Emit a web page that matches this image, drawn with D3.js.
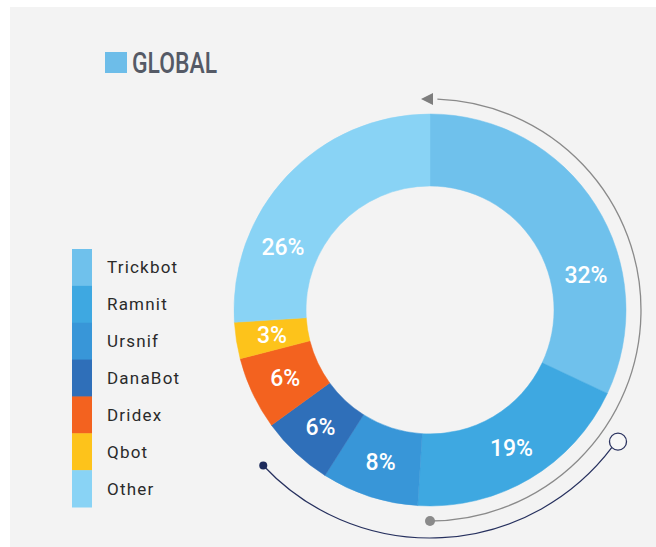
<!DOCTYPE html>
<html>
<head>
<meta charset="utf-8">
<script src="https://cdn.jsdelivr.net/npm/d3@7"></script>
<style>
  html, body { margin: 0; padding: 0; background: #ffffff; }
  svg { display: block; }
</style>
</head>
<body>
<svg id="chart" width="656" height="547"></svg>
<script>
// Malware family share, global
const families = ["Trickbot", "Ramnit", "Ursnif", "DanaBot", "Dridex", "Qbot", "Other"];
const shares = [32, 19, 8, 6, 6, 3, 26];
const colors = ["#6fc1ec", "#3ea8e1", "#3896d8", "#2f6fb9", "#f3621f", "#fdc31b", "#89d3f5"];
const title = "GLOBAL";

const W = 656, H = 547;
const cx = 430, cy = 310;
const rInner = 124, rOuter = 196;

const svg = d3.select("#chart");

// panel background
svg.append("rect")
  .attr("x", 10).attr("y", 7)
  .attr("width", W - 10).attr("height", H - 7)
  .attr("fill", "#f3f3f3");

// title with swatch
svg.append("rect")
  .attr("x", 105).attr("y", 52)
  .attr("width", 22).attr("height", 21)
  .attr("fill", "#6dbde9");
svg.append("text")
  .attr("x", 132).attr("y", 73)
  .attr("font-family", "Roboto, 'DejaVu Sans', sans-serif")
  .attr("font-weight", 500)
  .attr("font-size", 29)
  .attr("textLength", 85)
  .attr("lengthAdjust", "spacingAndGlyphs")
  .attr("fill", "#555a66")
  .text(title);

// legend: stacked colour bar with labels
const legendScale = d3.scaleBand()
  .domain(families)
  .range([249, 507]);

const legend = svg.append("g");
legend.selectAll("rect")
  .data(families)
  .join("rect")
  .attr("x", 72)
  .attr("y", d => legendScale(d))
  .attr("width", 20)
  .attr("height", legendScale.bandwidth() + 0.5)
  .attr("fill", (d, i) => colors[i]);
legend.selectAll("text")
  .data(families)
  .join("text")
  .attr("x", 107)
  .attr("y", d => legendScale(d) + legendScale.bandwidth() / 2 + 6)
  .attr("font-family", "Roboto, 'DejaVu Sans', sans-serif")
  .attr("font-size", 17)
  .attr("letter-spacing", 1.2)
  .attr("fill", "#2a2a2a")
  .text(d => d);

// decorative guide arcs around the ring
const deg = Math.PI / 180;
const guide = svg.append("g").attr("transform", `translate(${cx},${cy})`);

// grey arc from the bottom, round the right side, to an arrow at the top
const greyR = 211;
guide.append("path")
  .attr("d", d3.arc()({ innerRadius: greyR, outerRadius: greyR, startAngle: 2 * deg, endAngle: 180 * deg }))
  .attr("fill", "none")
  .attr("stroke", "#8a8a8a")
  .attr("stroke-width", 1.3);
guide.append("path")
  .attr("d", `M${-9},${-greyR} L${3},${-greyR - 6} L${3},${-greyR + 6} Z`)
  .attr("fill", "#7d7d7d");
guide.append("circle")
  .attr("cx", 0).attr("cy", greyR)
  .attr("r", 5)
  .attr("fill", "#8a8a8a");

// navy arc from the lower left round the bottom to an open ring
const navyR = 228;
guide.append("path")
  .attr("d", d3.arc()({ innerRadius: navyR, outerRadius: navyR, startAngle: 127 * deg, endAngle: 227 * deg }))
  .attr("fill", "none")
  .attr("stroke", "#26305e")
  .attr("stroke-width", 1.2);
guide.append("circle")
  .attr("cx", navyR * Math.sin(227 * deg))
  .attr("cy", -navyR * Math.cos(227 * deg))
  .attr("r", 4)
  .attr("fill", "#1d2b5c");
guide.append("circle")
  .attr("cx", 229.5 * Math.sin(125 * deg))
  .attr("cy", -229.5 * Math.cos(125 * deg))
  .attr("r", 8.5)
  .attr("fill", "#f7f7f7")
  .attr("stroke", "#2b3360")
  .attr("stroke-width", 1.3);

// donut
const pie = d3.pie().sort(null).value(d => d.value);
const arcs = pie(families.map((f, i) => ({ name: f, value: shares[i], color: colors[i] })));
const arc = d3.arc().innerRadius(rInner).outerRadius(rOuter);

const donut = svg.append("g").attr("transform", `translate(${cx},${cy})`);
donut.selectAll("path")
  .data(arcs)
  .join("path")
  .attr("d", arc)
  .attr("fill", d => d.data.color)
  .attr("stroke", d => d.data.color)
  .attr("stroke-width", 0.5);

// percentage labels; the two widest slices carry their label off-centre
const labelTurn = { Trickbot: 19.5, Other: -20 };
const labelR = 160;
donut.selectAll("text")
  .data(arcs)
  .join("text")
  .attr("transform", d => {
    const a = (d.startAngle + d.endAngle) / 2 + (labelTurn[d.data.name] || 0) * deg;
    return `translate(${labelR * Math.sin(a)},${-labelR * Math.cos(a)})`;
  })
  .attr("text-anchor", "middle")
  .attr("dy", "0.36em")
  .attr("font-family", "Roboto, 'DejaVu Sans', sans-serif")
  .attr("font-size", 23)
  .attr("font-weight", 500)
  .attr("fill", "#ffffff")
  .text(d => d.data.value + "%");
</script>
</body>
</html>
